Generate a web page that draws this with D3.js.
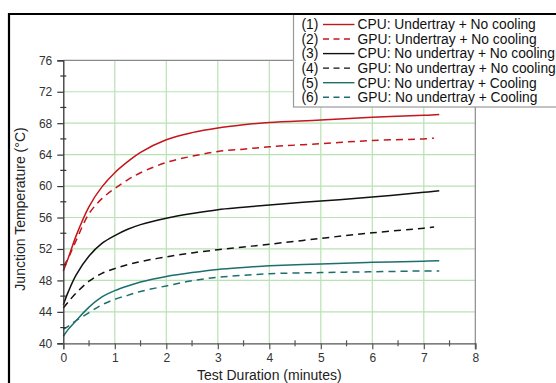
<!DOCTYPE html>
<html>
<head>
<meta charset="utf-8">
<script src="https://cdn.jsdelivr.net/npm/d3@7"></script>
<style>
  html, body { margin: 0; padding: 0; background: #fff; }
  svg { display: block; }
  text { font-family: "Liberation Sans", Arial, sans-serif; }
</style>
</head>
<body>
<svg id="chart" width="556" height="383"></svg>
<script>
// ---- data ----
const minutesLong  = [0, 0.1, 0.25, 0.5, 0.75, 1, 1.25, 1.5, 2, 2.5, 3, 3.5, 4, 5, 6, 7, 7.3];
const minutesShort = [0, 0.1, 0.25, 0.5, 0.75, 1, 1.25, 1.5, 2, 2.5, 3, 3.5, 4, 5, 6, 7, 7.2];

const cpuUndertrayNoCooling   = [49.2, 50.9, 53.7, 57.4, 59.9, 61.7, 63.1, 64.3, 65.9, 66.8, 67.4, 67.8, 68.1, 68.4, 68.75, 69.0, 69.1];
const gpuUndertrayNoCooling   = [49.8, 50.9, 53.1, 56.5, 58.4, 59.7, 60.8, 61.7, 63.0, 63.8, 64.4, 64.7, 65.0, 65.4, 65.8, 66.0, 66.1];
const cpuNoUndertrayNoCooling = [44.9, 46.6, 48.7, 51.1, 52.7, 53.7, 54.5, 55.1, 55.9, 56.5, 57.0, 57.3, 57.6, 58.1, 58.6, 59.2, 59.4];
const gpuNoUndertrayNoCooling = [44.5, 45.3, 46.4, 47.9, 48.9, 49.5, 50.0, 50.4, 51.0, 51.5, 51.9, 52.25, 52.6, 53.35, 54.05, 54.65, 54.8];
const cpuNoUndertrayCooling   = [40.9, 41.8, 42.9, 44.6, 45.9, 46.7, 47.3, 47.8, 48.5, 49.0, 49.4, 49.65, 49.85, 50.1, 50.3, 50.45, 50.5];
const gpuNoUndertrayCooling   = [41.8, 42.2, 42.9, 43.9, 44.9, 45.6, 46.1, 46.6, 47.3, 47.95, 48.4, 48.65, 48.85, 49.0, 49.1, 49.2, 49.2];

const legendLabels = [
  "CPU: Undertray + No cooling",
  "GPU: Undertray + No cooling",
  "CPU: No undertray + No cooling",
  "GPU: No undertray + No cooling",
  "CPU: No undertray + Cooling",
  "GPU: No undertray + Cooling"
];
const legendNumbers = ["(1)", "(2)", "(3)", "(4)", "(5)", "(6)"];
const xTicks = [0, 1, 2, 3, 4, 5, 6, 7, 8];
const xMinorTicks = [0.5, 1.5, 2.5, 3.5, 4.5, 5.5, 6.5, 7.5];
const yTicks = [40, 44, 48, 52, 56, 60, 64, 68, 72, 76];
const yMinorTicks = [42, 46, 50, 54, 58, 62, 66, 70, 74];
const xTitle = "Test Duration (minutes)";
const yTitle = "Junction Temperature (°C)";

// ---- styling ----
const colors = ["#c4161c", "#c4161c", "#111111", "#111111", "#1d6f6e", "#1d6f6e"];
const dashed = [false, true, false, true, false, true];
const seriesValues = [cpuUndertrayNoCooling, gpuUndertrayNoCooling, cpuNoUndertrayNoCooling,
                      gpuNoUndertrayNoCooling, cpuNoUndertrayCooling, gpuNoUndertrayCooling];
const seriesMinutes = [minutesLong, minutesShort, minutesLong, minutesShort, minutesLong, minutesLong];

const svg = d3.select("#chart");
const plot = { left: 63.3, right: 475.3, top: 60.3, bottom: 343.3 };

const x = d3.scaleLinear().domain([0, 8]).range([plot.left, plot.right]);
const y = d3.scaleLinear().domain([40, 76]).range([plot.bottom, plot.top]);

// outer frame (black)
svg.append("path")
  .attr("d", `M9,400 L9,14 L560,14`)
  .attr("fill", "none").attr("stroke", "#000").attr("stroke-width", 2.2);

// gridlines
const grid = svg.append("g");
grid.selectAll("line.gx").data(xTicks.filter(d => d > 0 && d < 8)).join("line")
  .attr("x1", d => x(d)).attr("x2", d => x(d))
  .attr("y1", y(76)).attr("y2", y(40))
  .attr("stroke", "#b9e2b3").attr("stroke-width", 1.2);
grid.selectAll("line.gy").data(yTicks.filter(d => d > 40 && d < 76)).join("line")
  .attr("x1", x(0)).attr("x2", x(8))
  .attr("y1", d => y(d)).attr("y2", d => y(d))
  .attr("stroke", "#b9e2b3").attr("stroke-width", 1.2);

// top and right border (gray)
svg.append("path")
  .attr("d", `M${x(0)},${y(76)} L${x(8)},${y(76)} L${x(8)},${y(40) + 6}`)
  .attr("fill", "none").attr("stroke", "#8a8a8a").attr("stroke-width", 1.2);

// curves
const line = d3.line().curve(d3.curveCatmullRom.alpha(0.5));
seriesValues.forEach((vals, i) => {
  const pts = vals.map((v, j) => [x(seriesMinutes[i][j]), y(v)]);
  svg.append("path")
    .attr("d", line(pts))
    .attr("fill", "none")
    .attr("stroke", colors[i])
    .attr("stroke-width", 1.5)
    .attr("stroke-dasharray", dashed[i] ? "7,5" : null);
});

// left axis
const yAxisG = svg.append("g").attr("transform", `translate(${plot.left},0)`)
  .call(d3.axisLeft(y).tickValues(yTicks).tickSize(6).tickPadding(5).tickFormat(d3.format("d")));
yAxisG.select(".domain").attr("stroke", "#333").attr("stroke-width", 1.3);
yAxisG.selectAll(".tick line").attr("stroke", "#333").attr("stroke-width", 1.2);
yAxisG.selectAll(".tick text").attr("fill", "#333").attr("font-size", 12)
  .attr("font-family", "Liberation Sans, Arial, sans-serif");
yAxisG.selectAll("line.minor").data(yMinorTicks).join("line").attr("class", "minor")
  .attr("x1", -3).attr("x2", 3).attr("y1", d => y(d)).attr("y2", d => y(d))
  .attr("stroke", "#333").attr("stroke-width", 1.2);

// bottom axis
const xAxisG = svg.append("g").attr("transform", `translate(0,${plot.bottom})`)
  .call(d3.axisBottom(x).tickValues(xTicks).tickSize(6).tickPadding(4).tickFormat(d3.format("d")));
xAxisG.select(".domain").attr("stroke", "#555").attr("stroke-width", 1.3);
xAxisG.selectAll(".tick line").attr("stroke", "#555").attr("stroke-width", 1.2);
xAxisG.selectAll(".tick text").attr("fill", "#333").attr("font-size", 12)
  .attr("font-family", "Liberation Sans, Arial, sans-serif");
xAxisG.selectAll("line.minor").data(xMinorTicks).join("line").attr("class", "minor")
  .attr("x1", d => x(d)).attr("x2", d => x(d)).attr("y1", -3).attr("y2", 3)
  .attr("stroke", "#555").attr("stroke-width", 1.2);

// axis titles
svg.append("text")
  .attr("x", (plot.left + plot.right) / 2).attr("y", 380)
  .attr("text-anchor", "middle").attr("font-size", 14).attr("fill", "#222")
  .text(xTitle);
svg.append("text")
  .attr("transform", `translate(25,209) rotate(-90)`)
  .attr("text-anchor", "middle").attr("font-size", 14).attr("fill", "#222")
  .text(yTitle);

// legend
const leg = svg.append("g");
leg.append("rect")
  .attr("x", 293.5).attr("y", 14).attr("width", 280).attr("height", 93)
  .attr("fill", "#fff").attr("stroke", "#999").attr("stroke-width", 1.2);
svg.append("line").attr("x1", 293).attr("x2", 560).attr("y1", 14).attr("y2", 14)
  .attr("stroke", "#000").attr("stroke-width", 2.2);
legendLabels.forEach((lab, i) => {
  const cy = 24.5 + i * 14.55;
  leg.append("text").attr("x", 301.5).attr("y", cy + 4.8)
    .attr("font-size", 13.8).attr("fill", "#111").text(legendNumbers[i]);
  leg.append("line").attr("x1", 323).attr("x2", 354.5).attr("y1", cy).attr("y2", cy)
    .attr("stroke", colors[i]).attr("stroke-width", 1.4)
    .attr("stroke-dasharray", dashed[i] ? "6,4.5" : null);
  leg.append("text").attr("x", 357.5).attr("y", cy + 4.8)
    .attr("font-size", 13.8).attr("fill", "#111").text(lab);
});
</script>
</body>
</html>
